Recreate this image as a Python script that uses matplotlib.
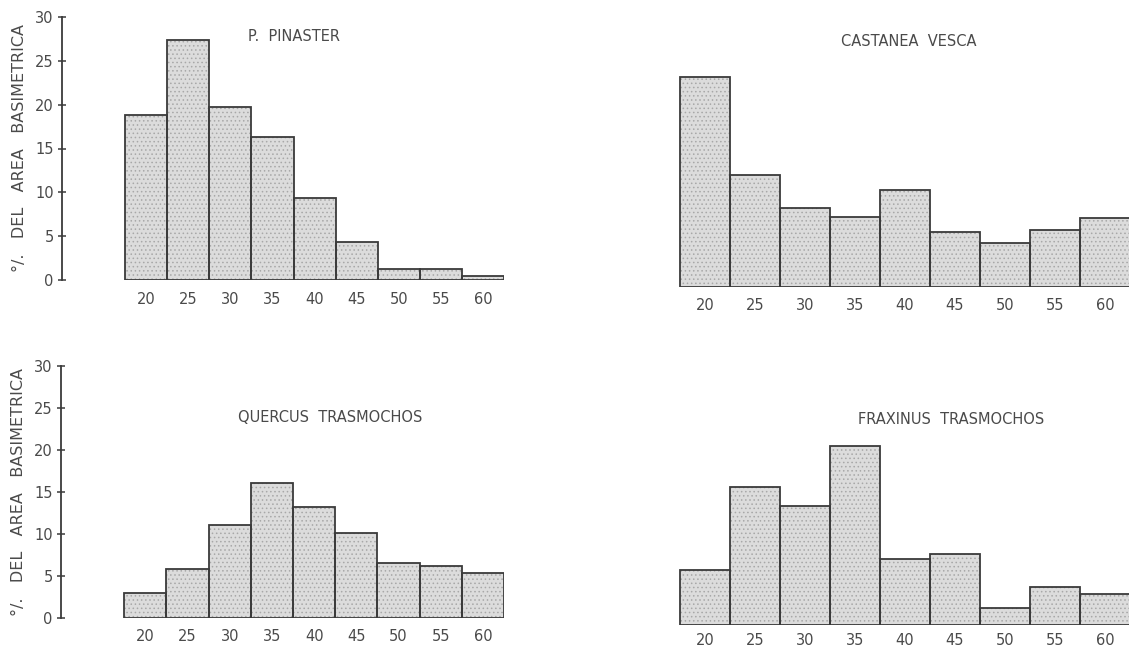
import matplotlib

matplotlib.use("Agg")
import matplotlib.pyplot as plt

# diameter classes (cm) and % of basal area per species
classes = [20, 25, 30, 35, 40, 45, 50, 55, 60]
pinaster = [18.8, 27.4, 19.7, 16.3, 9.4, 4.3, 1.3, 1.2, 0.4]
castanea = [24.1, 12.8, 9.0, 8.0, 11.1, 6.3, 5.0, 6.5, 7.9]
quercus = [3.0, 5.8, 11.1, 16.1, 13.2, 10.1, 6.5, 6.2, 5.4]
fraxinus = [6.5, 16.4, 14.2, 21.3, 7.8, 8.5, 2.0, 4.5, 3.7]

yticks = [0, 5, 10, 15, 20, 25, 30]
ylabel = "°/.   DEL   AREA   BASIMETRICA"

TXT = "#4a4a4a"
EDGE = "#3a3a3a"
W, H = 1129, 648

plt.rcParams["font.family"] = "DejaVu Sans"
plt.rcParams["hatch.linewidth"] = 0.6

fig = plt.figure(figsize=(W / 100, H / 100), dpi=100)
fig.patch.set_facecolor("white")


def px_axes(x0, x1, y_zero, y_top):
    # axes given in image pixels (top-left origin)
    return fig.add_axes([x0 / W, (H - y_zero) / H, (x1 - x0) / W, (y_zero - y_top) / H])


def draw(ax, values, title, tpos, xlim, with_yaxis, xpad):
    ax.bar(classes, values, width=5, color="#dcdcdc", edgecolor="#a8a8a8",
           hatch="....", linewidth=0, zorder=1)
    ax.bar(classes, values, width=5, fill=False, edgecolor=EDGE, linewidth=1.3, zorder=2)
    ax.set_xlim(*xlim)
    ax.set_ylim(0, 30)
    ax.set_facecolor("none")
    for s in ["top", "right", "bottom"]:
        ax.spines[s].set_visible(False)
    ax.set_xticks(classes)
    ax.set_xticklabels([str(c) for c in classes])
    ax.tick_params(axis="x", length=0, pad=xpad, labelsize=10.5, labelcolor=TXT)
    if with_yaxis:
        ax.spines["left"].set_color(EDGE)
        ax.spines["left"].set_linewidth(1.3)
        ax.set_yticks(yticks)
        ax.tick_params(axis="y", direction="inout", length=6, width=1.1, color=EDGE,
                       pad=3, labelsize=10.5, labelcolor=TXT)
        ax.set_ylabel(ylabel, fontsize=11.5, color=TXT, labelpad=6)
    else:
        ax.spines["left"].set_visible(False)
        ax.set_yticks([])
    ax.text(tpos[0], tpos[1], title, ha="center", va="center", fontsize=10.5, color=TXT)


ax1 = px_axes(62, 504, 280, 17)
draw(ax1, pinaster, "P.  PINASTER", (37.5, 27.8), (10.0, 62.5), True, 9)

ax2 = px_axes(660, 1129, 287, 25)
draw(ax2, castanea, "CASTANEA  VESCA", (40.4, 28.1), (15.5, 62.4), False, 8)

ax3 = px_axes(61, 504, 618, 366)
draw(ax3, quercus, "QUERCUS  TRASMOCHOS", (41.9, 23.9), (10.0, 62.5), True, 8)

ax4 = px_axes(660, 1129, 625, 373)
draw(ax4, fraxinus, "FRAXINUS  TRASMOCHOS", (44.6, 24.5), (15.5, 62.4), False, 5.5)

fig.savefig("out.png", dpi=100, facecolor="white")
